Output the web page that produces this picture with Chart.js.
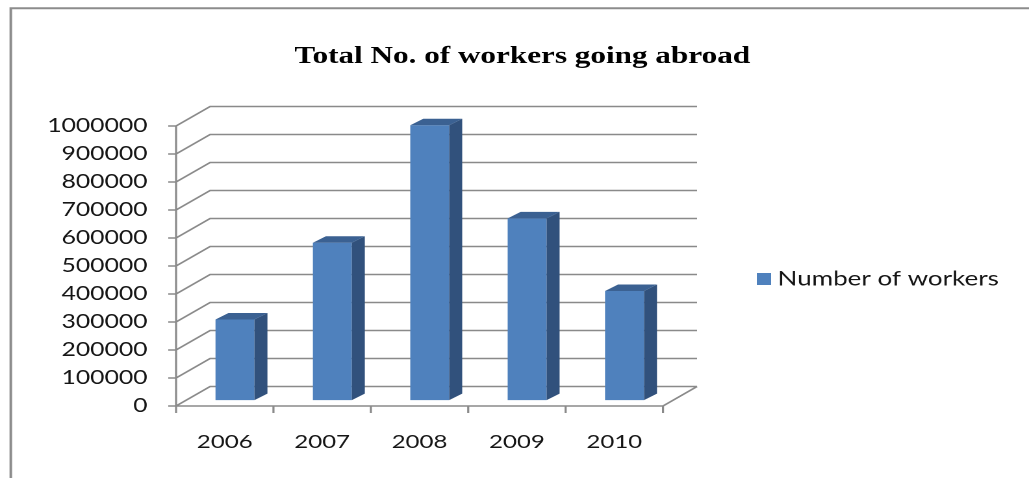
<!DOCTYPE html>
<html>
<head>
<meta charset="utf-8">
<script src="https://cdn.jsdelivr.net/npm/chart.js@4.4.1/dist/chart.umd.min.js"></script>
<style>
  html, body { margin: 0; padding: 0; background: #fff; }
</style>
</head>
<body>
<canvas id="chart" width="792" height="478" style="display:block;width:1029px;height:478px"></canvas>
<script>
const chartTitle = "Total No. of workers going abroad";
const seriesName = "Number of workers";
const years = ["2006", "2007", "2008", "2009", "2010"];
const workers = [288000, 562000, 982000, 649000, 390000];
const yTicks = [0, 100000, 200000, 300000, 400000, 500000, 600000, 700000, 800000, 900000, 1000000];

// the picture is a wide-stretched Excel 3D column chart, so the canvas is drawn
// narrower and stretched by css to the same 1029px
const WALL_DX = 26.2, WALL_DY = -19.5;   // depth of the back wall
const BAR_POS = 0.3;                     // bars stand 30% into the depth
const BAR_DX = 10, BAR_DY = -6.5;        // depth of one bar
const gridColor = "#8a8a8a";
const sideColor = "#31517c";
const topColor = "#3b6192";

const box3d = {
  id: "box3d",
  beforeDraw(chart) {
    const ctx = chart.ctx;
    ctx.save();
    ctx.strokeStyle = "#8c8c8c";
    ctx.lineWidth = 2;
    ctx.beginPath();
    ctx.moveTo(8.3, chart.height);
    ctx.lineTo(8.3, 8.2);
    ctx.lineTo(chart.width, 8.2);
    ctx.stroke();
    ctx.restore();
  },
  beforeDatasetsDraw(chart) {
    const { ctx, chartArea: a, scales: { x, y } } = chart;
    ctx.save();
    ctx.strokeStyle = gridColor;
    ctx.lineWidth = 1.6;
    ctx.beginPath();
    // wall grid lines with their diagonals and the tick marks on the front axis
    y.ticks.forEach(t => {
      const py = y.getPixelForValue(t.value);
      ctx.moveTo(a.left - 6, py);
      ctx.lineTo(a.left, py);
      ctx.lineTo(a.left + WALL_DX, py + WALL_DY);
      ctx.lineTo(a.right + WALL_DX, py + WALL_DY);
    });
    // front axis
    ctx.moveTo(a.left, a.top);
    ctx.lineTo(a.left, a.bottom);
    // floor front edge, right diagonal and category ticks
    ctx.moveTo(a.left, a.bottom);
    ctx.lineTo(a.right, a.bottom);
    ctx.lineTo(a.right + WALL_DX, a.bottom + WALL_DY);
    const half = (x.getPixelForValue(1) - x.getPixelForValue(0)) / 2;
    for (let i = 0; i <= years.length; i++) {
      const px = x.getPixelForValue(i) - half;
      ctx.moveTo(px, a.bottom);
      ctx.lineTo(px, a.bottom + 7);
    }
    ctx.stroke();
    ctx.restore();

    ctx.save();
    ctx.translate(WALL_DX * BAR_POS, WALL_DY * BAR_POS);
  },
  afterDatasetsDraw(chart) {
    const ctx = chart.ctx;
    ctx.restore();
    const sx = WALL_DX * BAR_POS, sy = WALL_DY * BAR_POS;
    chart.getDatasetMeta(0).data.forEach(bar => {
      const { x, y, base, width } = bar.getProps(["x", "y", "base", "width"], true);
      const l = x - width / 2 + sx, r = x + width / 2 + sx;
      const t = y + sy, b = base + sy;
      ctx.fillStyle = sideColor;
      ctx.beginPath();
      ctx.moveTo(r, t);
      ctx.lineTo(r + BAR_DX, t + BAR_DY);
      ctx.lineTo(r + BAR_DX, b + BAR_DY);
      ctx.lineTo(r, b);
      ctx.closePath();
      ctx.fill();
      ctx.fillStyle = topColor;
      ctx.beginPath();
      ctx.moveTo(l, t);
      ctx.lineTo(l + BAR_DX, t + BAR_DY);
      ctx.lineTo(r + BAR_DX, t + BAR_DY);
      ctx.lineTo(r, t);
      ctx.closePath();
      ctx.fill();
    });
  },
  afterDraw(chart) {
    const ctx = chart.ctx;
    const ds = chart.data.datasets[0];
    ctx.save();
    ctx.fillStyle = "#000";
    ctx.font = "bold 24px 'Liberation Serif'";
    ctx.textAlign = "center";
    ctx.textBaseline = "alphabetic";
    ctx.fillText(chartTitle, 402, 63);

    ctx.fillStyle = ds.backgroundColor;
    ctx.fillRect(582.5, 273, 11, 12);
    ctx.fillStyle = "#151515";
    ctx.font = "20px Lato";
    ctx.textAlign = "left";
    ctx.fillText(ds.label, 598.5, 285.5);
    ctx.restore();
  }
};

new Chart(document.getElementById("chart"), {
  type: "bar",
  data: {
    labels: years,
    datasets: [{
      label: seriesName,
      data: workers,
      backgroundColor: "#4f81bd",
      borderWidth: 0,
      barPercentage: 0.4,
      categoryPercentage: 1,
      clip: false
    }]
  },
  options: {
    responsive: false,
    animation: false,
    devicePixelRatio: 2,
    layout: { padding: { left: 0, top: 126, right: 281.7, bottom: 0 } },
    plugins: {
      legend: { display: false },
      title: { display: false },
      tooltip: { enabled: false }
    },
    scales: {
      x: {
        grid: { display: false, drawTicks: false },
        border: { display: false },
        ticks: { color: "#151515", font: { family: "Lato", size: 18.5 }, padding: 25 },
        afterFit: s => { s.height = 72; }
      },
      y: {
        min: 0,
        max: 1000000,
        grid: { display: false, drawTicks: false },
        border: { display: false },
        afterBuildTicks: s => { s.ticks = yTicks.map(v => ({ value: v })); },
        ticks: {
          color: "#151515",
          font: { family: "Lato", size: 19 },
          padding: 22,
          callback: v => String(v)
        },
        afterFit: s => { s.width = 135.5; }
      }
    }
  },
  plugins: [box3d]
});
</script>
</body>
</html>
